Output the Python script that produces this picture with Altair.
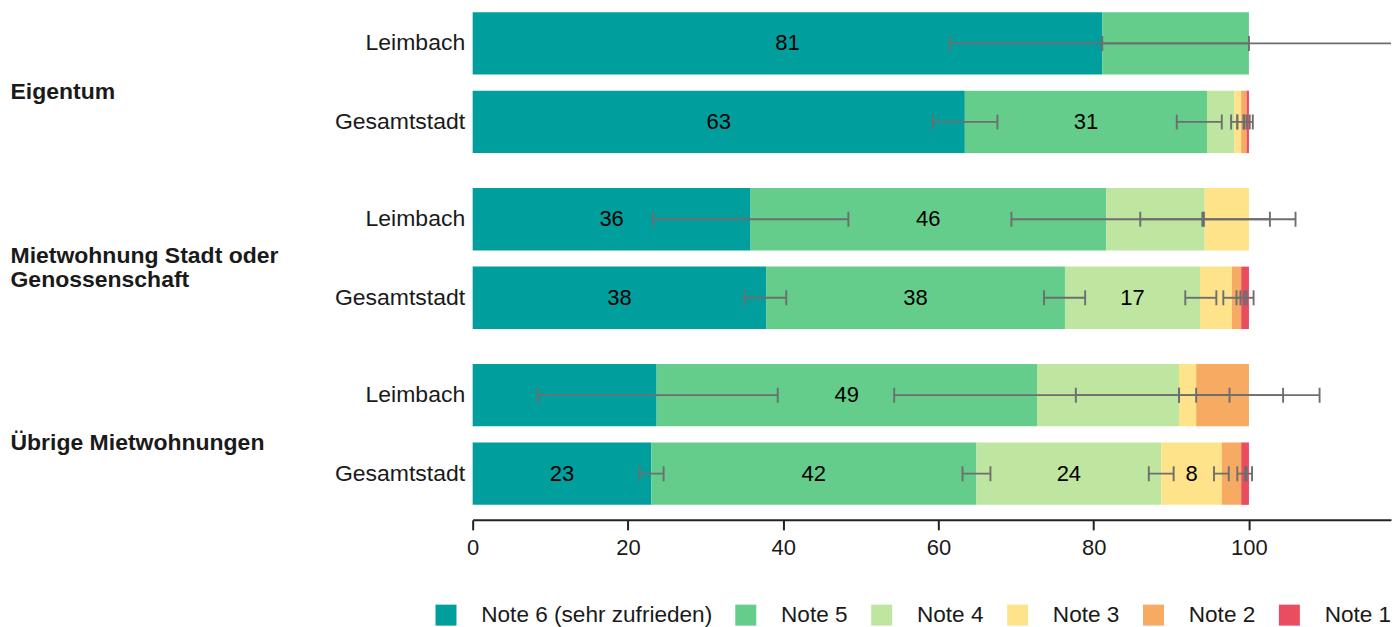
import altair as alt
import pandas as pd

FONT = "Liberation Sans"

group_lines = [["Eigentum"], ["Mietwohnung Stadt oder", "Genossenschaft"], ["Übrige Mietwohnungen"]]
areas = ["Leimbach", "Gesamtstadt"]
notes = ["Note 6 (sehr zufrieden)", "Note 5", "Note 4", "Note 3", "Note 2", "Note 1"]
colors = ["#009E9C", "#64CD8C", "#BEE6A0", "#FFE38A", "#F6AA62", "#EA4C60"]

# shares per note (Note 6 ... Note 1), in percent
eig_leimbach = [81.1, 18.9, 0, 0, 0, 0]
eig_stadt = [63.4, 31.2, 3.5, 0.9, 0.7, 0.3]
miet_leimbach = [35.8, 45.8, 12.7, 5.7, 0, 0]
miet_stadt = [37.8, 38.5, 17.4, 4.1, 1.2, 1.0]
ueb_leimbach = [23.7, 49.0, 18.3, 2.2, 6.8, 0]
ueb_stadt = [23.0, 41.9, 23.8, 7.8, 2.5, 1.0]

# confidence interval bounds (lower / upper)
eig_leimbach_lo = [61.5, 81.1, None, None, None, None]
eig_leimbach_hi = [100.0, 121.0, None, None, None, None]
eig_stadt_lo = [59.3, 90.7, 97.7, 98.5, 99.3, 99.7]
eig_stadt_hi = [67.6, 96.5, 98.5, 99.4, 100.1, 100.5]
miet_leimbach_lo = [23.2, 69.4, 86.0, 94.2, None, None]
miet_leimbach_hi = [48.4, 94.0, 102.7, 106.0, None, None]
miet_stadt_lo = [35.0, 73.6, 91.8, 96.7, 98.4, 99.4]
miet_stadt_hi = [40.4, 78.9, 95.8, 98.9, 99.7, 100.6]
ueb_leimbach_lo = [8.4, 54.3, 77.7, 93.2, 91.0, None]
ueb_leimbach_hi = [39.3, 91.0, 104.4, 97.5, 109.1, None]
ueb_stadt_lo = [21.5, 63.1, 87.1, 95.5, 98.5, 99.5]
ueb_stadt_hi = [24.6, 66.7, 90.3, 97.4, 99.7, 100.4]

# value labels shown inside bars
eig_leimbach_lbl = ["81", "", "", "", "", ""]
eig_stadt_lbl = ["63", "31", "", "", "", ""]
miet_leimbach_lbl = ["36", "46", "", "", "", ""]
miet_stadt_lbl = ["38", "38", "17", "", "", ""]
ueb_leimbach_lbl = ["", "49", "", "", "", ""]
ueb_stadt_lbl = ["23", "42", "24", "8", "", ""]

groups = [" ".join(l) for l in group_lines]
rows = [
    (groups[0], areas[0], eig_leimbach, eig_leimbach_lo, eig_leimbach_hi, eig_leimbach_lbl),
    (groups[0], areas[1], eig_stadt, eig_stadt_lo, eig_stadt_hi, eig_stadt_lbl),
    (groups[1], areas[0], miet_leimbach, miet_leimbach_lo, miet_leimbach_hi, miet_leimbach_lbl),
    (groups[1], areas[1], miet_stadt, miet_stadt_lo, miet_stadt_hi, miet_stadt_lbl),
    (groups[2], areas[0], ueb_leimbach, ueb_leimbach_lo, ueb_leimbach_hi, ueb_leimbach_lbl),
    (groups[2], areas[1], ueb_stadt, ueb_stadt_lo, ueb_stadt_hi, ueb_stadt_lbl),
]

recs = []
for g, a, vals, lo, hi, lbl in rows:
    cum = 0.0
    for n, v, l, h, t in zip(notes, vals, lo, hi, lbl):
        recs.append(dict(group=g, area=a, note=n, value=v, start=cum, end=cum + v,
                         mid=cum + v / 2, lo=l, hi=h, label=t))
        cum += v
df = pd.DataFrame(recs)

PLOT_W = 919
x_scale = alt.Scale(domain=[0, 118.3], nice=False, zero=False)
y_scale = alt.Scale(domain=areas, paddingInner=0.205, paddingOuter=0)
color_scale = alt.Scale(domain=notes, range=colors)

legend = alt.Legend(
    title=None, orient="none", legendX=-38, legendY=592, direction="horizontal",
    columns=6, symbolType="square", symbolSize=441, symbolStrokeWidth=0,
    labelFontSize=22.6, labelFont=FONT, labelColor="#1a1a1a", labelOffset=24,
    columnPadding=22, labelLimit=400,
)

x_axis = alt.Axis(
    values=[0, 20, 40, 60, 80, 100], title=None, labelFontSize=22, labelFont=FONT,
    labelColor="#1a1a1a", domainColor="#222222", domainWidth=2, tickColor="#222222",
    tickWidth=2, tickSize=10, labelPadding=8, offset=15, grid=False, labelFlush=False,
)

GRAY = "#6e6e6e"


def panel(i):
    g = groups[i]
    show_x = i == len(groups) - 1
    ax = x_axis if show_x else None
    n_lines = len(group_lines[i])
    y_enc = alt.Y(
        "area:N", scale=y_scale, sort=areas,
        axis=alt.Axis(
            title=group_lines[i] if n_lines > 1 else group_lines[i][0],
            titleAngle=0, titleAlign="left", titleX=-463, titleY=79 - (n_lines - 1) * 12,
            titleBaseline="middle", titleFontWeight="bold", titleFontSize=23,
            titleFont=FONT, titleColor="#1a1a1a", titleLineHeight=24,
            labelFontSize=23, labelFont=FONT, labelColor="#1a1a1a",
            labelPadding=8, ticks=False, domain=False,
        ),
    )
    base = alt.Chart(df).transform_filter(alt.datum.group == g)
    bars = base.transform_filter("datum.value > 0").mark_bar().encode(
        x=alt.X("start:Q", scale=x_scale, axis=ax),
        x2="end:Q",
        y=y_enc,
        color=alt.Color("note:N", scale=color_scale, sort=notes, legend=legend),
    )
    errs = base.transform_filter("isValid(datum.lo)")
    rule = errs.mark_rule(color=GRAY, strokeWidth=1.9, clip=True).encode(
        x=alt.X("lo:Q", scale=x_scale, axis=ax), x2="hi:Q", y=y_enc,
    )
    tick_lo = errs.mark_tick(color=GRAY, thickness=1.9, size=15, clip=True, opacity=1).encode(
        x=alt.X("lo:Q", scale=x_scale, axis=ax), y=y_enc,
    )
    tick_hi = errs.mark_tick(color=GRAY, thickness=1.9, size=15, clip=True, opacity=1).encode(
        x=alt.X("hi:Q", scale=x_scale, axis=ax), y=y_enc,
    )
    text = base.transform_filter("datum.label != ''").mark_text(
        font=FONT, fontSize=22, color="#000000", baseline="middle", align="center",
    ).encode(
        x=alt.X("mid:Q", scale=x_scale, axis=ax), y=y_enc, text="label:N",
    )
    return alt.layer(bars, rule, tick_lo, tick_hi, text).properties(width=PLOT_W, height=141)


chart = alt.vconcat(*[panel(i) for i in range(3)], spacing=35).properties(
    padding={"left": 2, "top": 4, "right": 0, "bottom": 0}, background="white"
).configure_view(stroke=None)

chart.save("out.html", embed_options={"renderer": "svg", "actions": False})
